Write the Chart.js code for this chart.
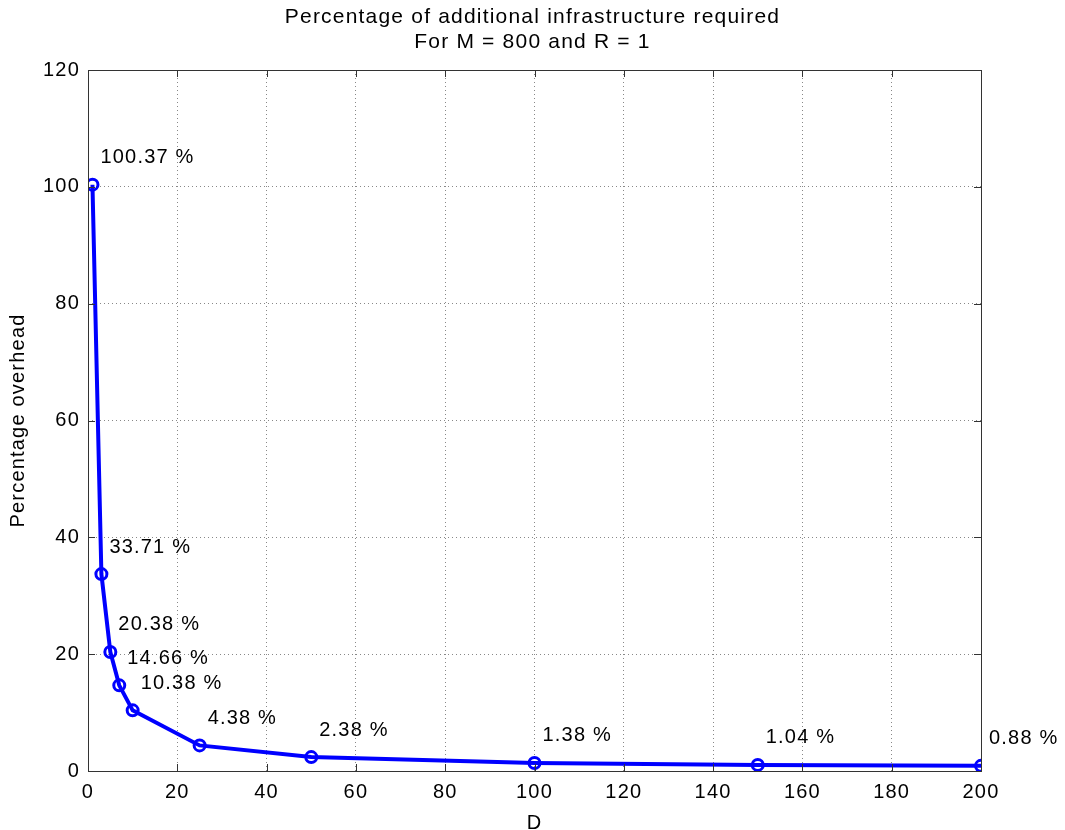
<!DOCTYPE html>
<html>
<head>
<meta charset="utf-8">
<style>
  body { margin: 0; background: #fff; }
  #wrap { width: 1065px; height: 830px; }
</style>
<script src="https://cdn.jsdelivr.net/npm/chart.js"></script>
</head>
<body>
<div id="wrap"><canvas id="chart" width="1065" height="830"></canvas></div>
<script>
const dValues = [1, 3, 5, 7, 10, 25, 50, 100, 150, 200];
const overhead = [100.37, 33.71, 20.38, 14.66, 10.38, 4.38, 2.38, 1.38, 1.04, 0.88];
const pointLabels = ["100.37 %", "33.71 %", "20.38 %", "14.66 %", "10.38 %", "4.38 %", "2.38 %", "1.38 %", "1.04 %", "0.88 %"];
const titleLines = ["Percentage of additional infrastructure required", "For M = 800 and R = 1"];

const FONT = "'Liberation Sans', Arial, sans-serif";

// wider glyph spacing like the old X11 Helvetica of the original
const spacing = {
    id: "spacing",
    beforeLayout(chart) { chart.ctx.letterSpacing = "1.2px"; },
    beforeDraw(chart) { chart.ctx.letterSpacing = "1.2px"; }
};

// title centred on the page, frame, inward ticks and the value labels (MATLAB look)
const matlabStyle = {
    id: "matlabStyle",
    afterDatasetsDraw(chart) {
        const ctx = chart.ctx;
        const a = chart.chartArea;
        const xs = chart.scales.x, ys = chart.scales.y;
        ctx.save();
        ctx.fillStyle = "#000";
        ctx.font = "21px " + FONT;
        ctx.textAlign = "center";
        ctx.textBaseline = "middle";
        titleLines.forEach((line, i) => ctx.fillText(line, chart.width / 2, 17 + i * 25));

        ctx.strokeStyle = "#333";
        ctx.lineWidth = 1;
        ctx.strokeRect(Math.round(a.left) + 0.5, Math.round(a.top) + 0.5,
            Math.round(a.right - a.left), Math.round(a.bottom - a.top));
        const tl = 7;
        ctx.beginPath();
        xs.ticks.forEach(t => {
            const px = Math.round(xs.getPixelForValue(t.value)) + 0.5;
            ctx.moveTo(px, a.bottom); ctx.lineTo(px, a.bottom - tl);
            ctx.moveTo(px, a.top); ctx.lineTo(px, a.top + tl);
        });
        ys.ticks.forEach(t => {
            const py = Math.round(ys.getPixelForValue(t.value)) + 0.5;
            ctx.moveTo(a.left, py); ctx.lineTo(a.left + tl, py);
            ctx.moveTo(a.right, py); ctx.lineTo(a.right - tl, py);
        });
        ctx.stroke();

        ctx.font = "20px " + FONT;
        ctx.textAlign = "left";
        dValues.forEach((d, i) => {
            const px = xs.getPixelForValue(d);
            const py = ys.getPixelForValue(overhead[i]);
            ctx.fillText(pointLabels[i], px + 8, py - 27);
        });
        ctx.restore();
    }
};

const config = {
    type: "line",
    data: {
        datasets: [{
            data: dValues.map((d, i) => ({ x: d, y: overhead[i] })),
            borderColor: "#0000ff",
            borderWidth: 4,
            pointRadius: 5.5,
            pointBorderWidth: 3,
            pointBackgroundColor: "rgba(0,0,0,0)",
            pointBorderColor: "#0000ff",
            tension: 0,
            fill: false
        }]
    },
    options: {
        responsive: false,
        animation: false,
        layout: { padding: { left: 0, right: 84, top: 70, bottom: 0 } },
        plugins: {
            legend: { display: false },
            tooltip: { enabled: false },
            title: { display: false }
        },
        scales: {
            x: {
                type: "linear",
                min: 0,
                max: 200,
                afterFit(scale) { scale.height = 59; },
                ticks: { stepSize: 20, color: "#000", padding: 9, maxRotation: 0,
                    font: { family: FONT, size: 20 } },
                grid: { color: "#888", lineWidth: 1, drawTicks: false },
                border: { display: false, dash: [1, 3] },
                title: { display: true, text: "D", color: "#000",
                    font: { family: FONT, size: 20, lineHeight: 0.7 }, padding: { top: 0, bottom: 0 } }
            },
            y: {
                min: 0,
                max: 120,
                afterFit(scale) { scale.width = 88; },
                ticks: { stepSize: 20, color: "#000", padding: 8,
                    font: { family: FONT, size: 20 } },
                grid: { color: "#888", lineWidth: 1, drawTicks: false },
                border: { display: false, dash: [1, 3] },
                title: { display: true, text: "Percentage overhead", color: "#000",
                    font: { family: FONT, size: 20 }, padding: { top: 6, bottom: 0 } }
            }
        }
    },
    plugins: [spacing, matlabStyle]
};

new Chart(document.getElementById("chart"), config);
</script>
</body>
</html>
